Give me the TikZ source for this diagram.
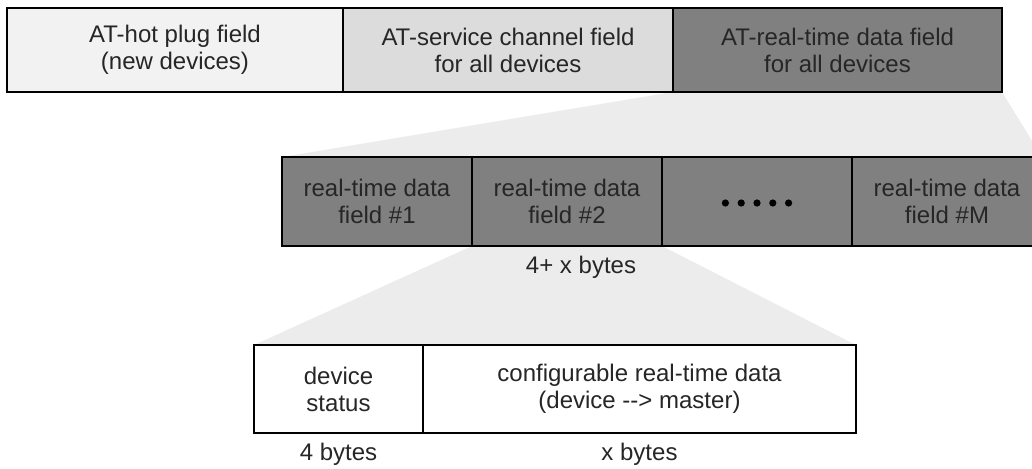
\documentclass[tikz,border=0pt]{standalone}
\usepackage{fontspec}
\setmainfont{Liberation Sans}
\usetikzlibrary{positioning,backgrounds}
\definecolor{hotgray}{HTML}{F2F2F2}
\definecolor{svcgray}{HTML}{DCDCDC}
\definecolor{rtgray}{HTML}{808080}
\definecolor{zoomgray}{HTML}{ECECEC}
\tikzset{
	field/.style={draw=black, line width=1.2pt, rectangle, inner sep=0pt, outer sep=0pt,
		align=center, minimum height=#1, text=black!85},
	field/.default=84pt,
	bytelabel/.style={inner sep=0pt, text=black!85}
}
\begin{document}
\begin{tikzpicture}[x=1pt, y=-1pt, font=\fontsize{24pt}{27pt}\selectfont]
	\useasboundingbox (0,0) rectangle (1032,468);
	\coordinate (TopLeft)    at (7,8);
	\coordinate (MidLeft)    at (282,157);
	\coordinate (BottomLeft) at (254,345);
	% top row
	\node[field, fill=hotgray, minimum width=336pt, anchor=north west] (hot) at (TopLeft) {AT-hot plug field\\(new devices)};
	\node[field, fill=svcgray, minimum width=330pt, right=0pt of hot] (svc) {AT-service channel field\\for all devices};
	\node[field, fill=rtgray, minimum width=329pt, right=0pt of svc] (rt) {AT-real-time data field\\for all devices};
	% real-time data fields
	\node[field=89pt, fill=rtgray, minimum width=190pt, anchor=north west] (rt1) at (MidLeft) {real-time data\\field \#1};
	\node[field=89pt, fill=rtgray, minimum width=190pt, right=0pt of rt1] (rt2) {real-time data\\field \#2};
	\node[field=89pt, fill=rtgray, minimum width=190pt, right=0pt of rt2] (dots) {};
	\node[field=89pt, fill=rtgray, minimum width=190pt, right=0pt of dots] (rtM) {real-time data\\field \#M};
	\foreach \k in {-2,...,2}
		\fill[black] ([xshift=\k*15.8pt, yshift=-1.5pt]dots.center) circle (3.6pt);
	\node[bytelabel] (len2) at (581,267) {4+ x bytes};
	% one field in detail
	\node[field=88pt, fill=white, minimum width=169pt, anchor=north west] (status) at (BottomLeft) {device\\status};
	\node[field=88pt, fill=white, minimum width=433pt, right=0pt of status] (config) {configurable real-time data\\(device {-}{-}> master)};
	\node[bytelabel] (lenstatus) at (status.south |- 0,454) {4 bytes};
	\node[bytelabel] (lenconfig) at (config.south |- 0,454) {x bytes};
	
	\begin{pgfonlayer}{background}
	\fill[zoomgray] (rt.south west) -- (rt.south east) -- (rtM.north east) -- (rt1.north west) -- cycle;
	\fill[zoomgray] (rt2.south west) -- (rt2.south east) -- (config.north east) -- (status.north west) -- cycle;
	\end{pgfonlayer}
\end{tikzpicture}
\end{document}
